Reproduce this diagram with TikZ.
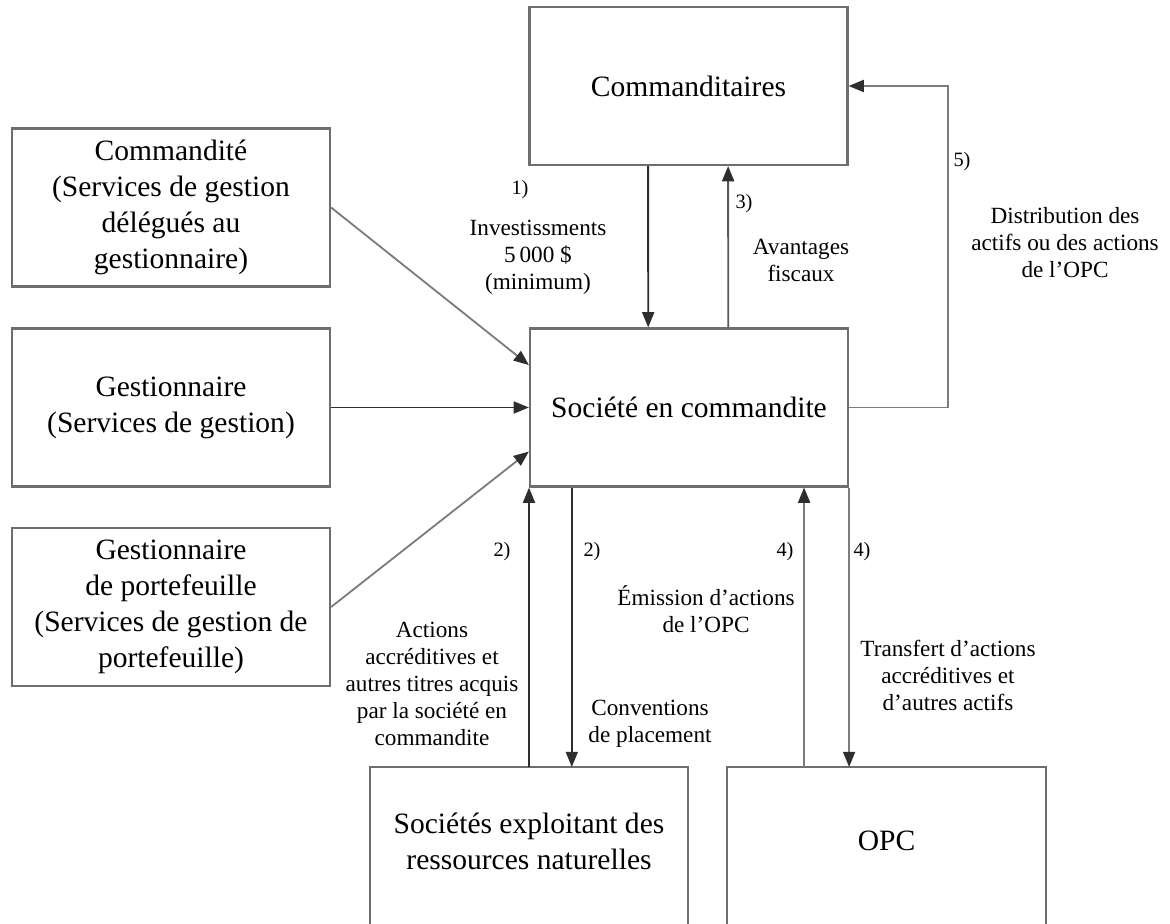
\documentclass[tikz,border=0pt]{standalone}
\usepackage{fontspec}
\setmainfont{Liberation Serif}
\usetikzlibrary{arrows.meta, positioning}
\definecolor{boxgray}{HTML}{6E6E6E}
\definecolor{linedark}{HTML}{2E2E2E}
\definecolor{linegray}{HTML}{7C7C7C}

\begin{document}
\begin{tikzpicture}[
  x=0.025cm, y=-0.025cm,
  box/.style={
    rectangle,
    draw=boxgray,
    line width=1.5pt,
    minimum width=7.95cm,
    minimum height=3.95cm,
    align=center,
    font=\fontsize{21}{25.6}\selectfont
  },
  openbox/.style={
    rectangle,
    minimum width=7.95cm,
    minimum height=3.7cm,
    align=center,
    font=\fontsize{21}{25.6}\selectfont
  },
  lbl/.style={align=center, inner sep=0pt, font=\fontsize{16.5}{19.2}\selectfont},
  num/.style={inner sep=0pt, font=\fontsize{14.5}{16}\selectfont},
  flow/.style={-{Triangle[length=0.38cm,width=0.3cm,color=linedark]}, line width=1.3pt, draw=#1},
  flow/.default=linedark
]
  \useasboundingbox (0,0) rectangle (1170,924);

  % boxes
  \node[box] (cmdtaires) at (688.5,86) {Commanditaires};
  \node[box] (commandite) at (171,207.5) {Commandité\\(Services de gestion\\délégués au\\gestionnaire)};
  \node[box] (gestion) at (171,407.5) {Gestionnaire\\(Services de gestion)};
  \node[box] (portef) at (171,607) {Gestionnaire\\de portefeuille\\(Services de gestion de\\portefeuille)};
  \node[box] (societe) at (689,407.5) {Société en commandite};
  \node[openbox, anchor=north] (ressources) at (529,767) {Sociétés exploitant des\\ressources naturelles};
  \node[openbox, anchor=north] (opc) at (886.5,767) {OPC};

  % open bottom boxes
  \draw[boxgray, line width=1.5pt] ([yshift=-3cm]ressources.south west) |- (ressources.north east) -- ([yshift=-3cm]ressources.south east);
  \draw[boxgray, line width=1.5pt] ([yshift=-3cm]opc.south west) |- (opc.north east) -- ([yshift=-3cm]opc.south east);

  % services
  \draw[flow=linegray] (commandite.east) -- ([yshift=1.06cm]societe.west);
  \draw[flow] (gestion.east) -- (societe.west);
  \draw[flow=linegray] (portef.east) -- ([yshift=-1.1cm]societe.west);

  % commanditaires
  \draw[flow] ([xshift=-1.01cm]cmdtaires.south) -- ([xshift=-1.02cm]societe.north);
  \draw[flow=linedark!80] ([xshift=0.98cm]societe.north) -- ([xshift=0.99cm]cmdtaires.south);
  \draw[flow=linegray] (societe.east) -- ++(2.48cm,0) |- (cmdtaires.east);

  % bottom
  \coordinate (rdown) at ([xshift=1.07cm]ressources.north);
  \coordinate (oup) at ([xshift=-2.06cm]opc.north);
  \draw[flow] (ressources.north) -- (ressources.north |- societe.south);
  \draw[flow] (rdown |- societe.south) -- (rdown);
  \draw[flow=linegray] (oup) -- (oup |- societe.south);
  \draw[flow=linegray] (societe.south east) -- (societe.south east |- opc.north);

  % labels
  \node[num] (n1) at (520,190) {1)};
  \node[lbl] (invest) at (538,257) {Investissments\\5\,000 \$\\(minimum)};
  \node[num] (n3) at (744,204) {3)};
  \node[lbl] (avant) at (801,260) {Avantages\\fiscaux};
  \node[num] (n5) at (962,162) {5)};
  \node[lbl] (distrib) at (1065,243) {Distribution des\\actifs ou des actions\\de l’OPC};
  \node[num] (n2a) at (502,552) {2)};
  \node[num] (n2b) at (592,552) {2)};
  \node[num] (n4a) at (785,552) {4)};
  \node[num] (n4b) at (862,552) {4)};
  \node[lbl] (actions) at (432,684) {Actions\\accréditives et\\autres titres acquis\\par la société en\\commandite};
  \node[lbl] (conv) at (650,724) {Conventions\\de placement};
  \node[lbl] (emission) at (706,609) {Émission d’actions\\de l’OPC};
  \node[lbl] (transfert) at (948,675) {Transfert d’actions\\accréditives et\\d’autres actifs};
\end{tikzpicture}
\end{document}
